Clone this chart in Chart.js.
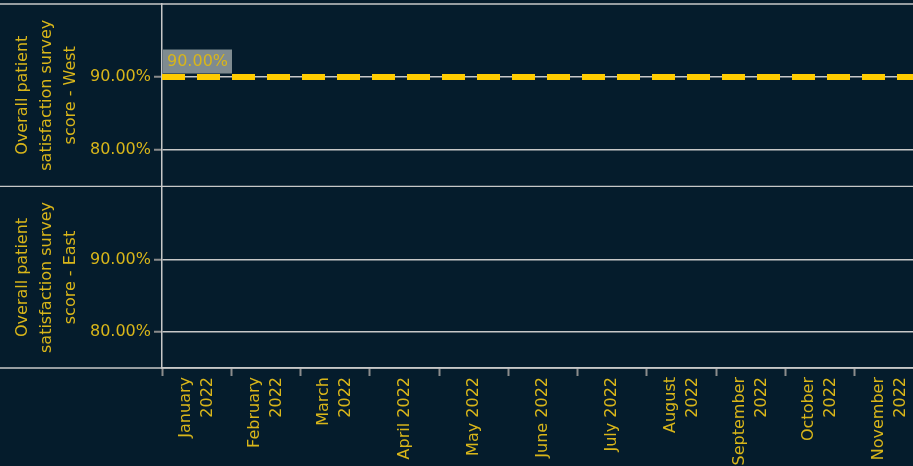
<!DOCTYPE html>
<html>
<head>
<meta charset="utf-8">
<script src="https://cdn.jsdelivr.net/npm/chart.js@4/dist/chart.umd.min.js"></script>
<style>
  html, body { margin: 0; padding: 0; background: #051c2c; }
  #wrap { width: 913px; height: 466px; overflow: hidden; position: relative; }
  canvas { display: block; }
</style>
</head>
<body>
<div id="wrap">
  <canvas id="westChart" width="924" height="187"></canvas>
  <canvas id="eastChart" width="924" height="279"></canvas>
</div>
<script>
// categories + values
const months = [
  ['January', '2022'], ['February', '2022'], ['March', '2022'], 'April 2022',
  'May 2022', 'June 2022', 'July 2022', ['August', '2022'], ['September', '2022'],
  ['October', '2022'], ['November', '2022']
];
const yTicks = [80, 90];
const yMin = 75;
const yMax = 100;
const westTarget = 90;   // reference line, West panel
const westTitle = ['Overall patient', 'satisfaction survey', 'score - West'];
const eastTitle = ['Overall patient', 'satisfaction survey', 'score - East'];

const GOLD = '#d9b61a';
const LINE = '#c8c8c8';
const TICK = '#8c8c8c';
const FONT = 'DejaVu Sans';

const pct = v => v.toFixed(2) + '%';

// row divider lines that run across the whole width, like the header panes
const dividers = {
    id: 'dividers',
    afterDraw(chart, args, opts) {
        const { ctx, chartArea } = chart;
        ctx.save();
        ctx.strokeStyle = LINE;
        ctx.lineWidth = 1.5;
        const ys = [];
        if (opts.top) ys.push(chartArea.top);
        if (opts.bottom) ys.push(chartArea.bottom);
        ys.forEach(y => {
            ctx.beginPath();
            ctx.moveTo(0, y);
            ctx.lineTo(chart.width, y);
            ctx.stroke();
        });
        ctx.restore();
    }
};

// grey box label sitting on the reference line
const refLabel = {
    id: 'refLabel',
    afterDatasetsDraw(chart, args, opts) {
        if (!opts.show) return;
        const { ctx, chartArea } = chart;
        const y = chart.scales.y.getPixelForValue(opts.value);
        const txt = pct(opts.value);
        ctx.save();
        ctx.font = '16px ' + FONT;
        const w = ctx.measureText(txt).width + 8;
        ctx.fillStyle = '#7f8b90';
        ctx.fillRect(chartArea.left + 1, y - 27.5, w, 24);
        ctx.fillStyle = GOLD;
        ctx.textBaseline = 'middle';
        ctx.fillText(txt, chartArea.left + 5, y - 15.5);
        ctx.restore();
    }
};

// month labels: vertical, wrapped lines centred on the category
const monthLabels = {
    id: 'monthLabels',
    afterDraw(chart) {
        const sc = chart.scales.x;
        if (!sc.options.display) return;
        const { ctx } = chart;
        const lineH = 22;
        ctx.save();
        ctx.font = '16px ' + FONT;
        ctx.fillStyle = GOLD;
        ctx.textAlign = 'right';
        ctx.textBaseline = 'middle';
        months.forEach((m, i) => {
            const lines = Array.isArray(m) ? m : [m];
            const x = sc.getPixelForTick(i);
            lines.forEach((ln, j) => {
                const cx = x + (j - (lines.length - 1) / 2) * lineH;
                ctx.save();
                ctx.translate(cx, sc.top + 9);
                ctx.rotate(-Math.PI / 2);
                ctx.fillText(ln, 0, 0);
                ctx.restore();
            });
        });
        ctx.restore();
    }
};

function yScale(title) {
    return {
        min: yMin,
        max: yMax,
        afterBuildTicks: s => { s.ticks = yTicks.map(v => ({ value: v })); },
        afterFit: s => { s.width = 162; s.paddingTop = 0; s.paddingBottom = 0; },
        border: { display: true, color: LINE, width: 1.5 },
        grid: { color: LINE, lineWidth: 1.5, tickLength: 8, tickColor: TICK, tickWidth: 2 },
        ticks: { color: GOLD, font: { family: FONT, size: 16 }, padding: 3, callback: v => pct(v) },
        title: {
            display: true, text: title, color: GOLD,
            font: { family: FONT, size: 16, lineHeight: 1.5 },
            padding: { top: 11, bottom: 0 }
        }
    };
}

function xScale(show) {
    return {
        type: 'category',
        display: show,
        offset: true,
        afterFit: s => {
            if (show) s.height = 98;
            s.paddingLeft = 0;
            s.paddingRight = 0;
        },
        border: { display: true, color: LINE, width: 1.5 },
        grid: { offset: true, drawOnChartArea: false, tickLength: 8, tickColor: TICK, tickWidth: 2 },
        ticks: { display: false, autoSkip: false, minRotation: 90, maxRotation: 90 }
    };
}

const baseOptions = (title, showX, o) => ({
    responsive: false,
    animation: false,
    layout: { padding: { top: o.padTop, right: 0, left: 0, bottom: o.padBottom } },
    scales: {
        x: xScale(showX),
        xr: { type: 'linear', min: 0, max: 1, display: false },
        y: yScale(title)
    },
    plugins: {
        legend: { display: false },
        tooltip: { enabled: false },
        dividers: { top: o.lineTop, bottom: true },
        refLabel: o.ref
    }
});

new Chart(document.getElementById('westChart'), {
    type: 'line',
    data: {
        labels: months,
        datasets: [{
            label: 'Target',
            xAxisID: 'xr',
            data: [{ x: 0, y: westTarget }, { x: 1, y: westTarget }],
            borderColor: '#ffcc00',
            borderWidth: 6,
            borderDash: [23, 12],
            borderCapStyle: 'butt',
            pointRadius: 0
        }]
    },
    options: baseOptions(westTitle, false, { padTop: 4, padBottom: 0.5, lineTop: true, ref: { show: true, value: westTarget } }),
    plugins: [dividers, refLabel, monthLabels]
});

new Chart(document.getElementById('eastChart'), {
    type: 'line',
    data: {
        labels: months,
        datasets: []
    },
    options: baseOptions(eastTitle, true, { padTop: 0, padBottom: 0, lineTop: false, ref: { show: false } }),
    plugins: [dividers, refLabel, monthLabels]
});
</script>
</body>
</html>
